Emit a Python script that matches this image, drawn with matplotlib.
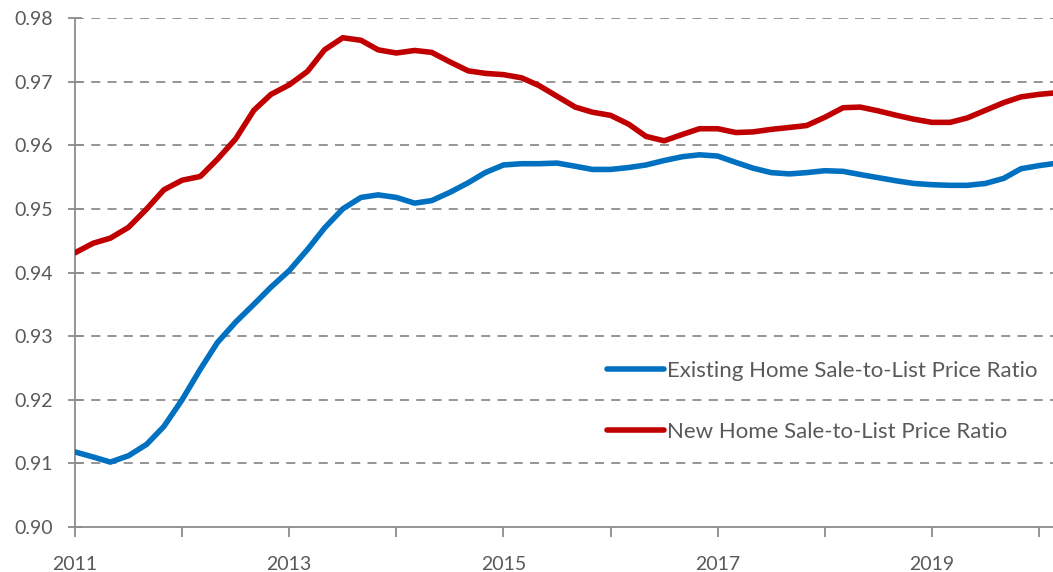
import numpy as np
import matplotlib
matplotlib.use("Agg")
import matplotlib.pyplot as plt

# bi-monthly readings, fractional years
years = [2011.00, 2011.17, 2011.33, 2011.50, 2011.67, 2011.83,
         2012.00, 2012.17, 2012.33, 2012.50, 2012.67, 2012.83,
         2013.00, 2013.17, 2013.33, 2013.50, 2013.67, 2013.83,
         2014.00, 2014.17, 2014.33, 2014.50, 2014.67, 2014.83,
         2015.00, 2015.17, 2015.33, 2015.50, 2015.67, 2015.83,
         2016.00, 2016.17, 2016.33, 2016.50, 2016.67, 2016.83,
         2017.00, 2017.17, 2017.33, 2017.50, 2017.67, 2017.83,
         2018.00, 2018.17, 2018.33, 2018.50, 2018.67, 2018.83,
         2019.00, 2019.17, 2019.33, 2019.50, 2019.67, 2019.83,
         2020.00, 2020.13]

existing_ratio = [0.9118, 0.9110, 0.9102, 0.9112, 0.9130, 0.9158,
                  0.9200, 0.9248, 0.9290, 0.9322, 0.9350, 0.9377,
                  0.9403, 0.9436, 0.9470, 0.9500, 0.9518, 0.9522,
                  0.9518, 0.9509, 0.9513, 0.9526, 0.9541, 0.9557,
                  0.9569, 0.9571, 0.9571, 0.9572, 0.9567, 0.9562,
                  0.9562, 0.9565, 0.9569, 0.9576, 0.9582, 0.9585,
                  0.9583, 0.9573, 0.9564, 0.9557, 0.9555, 0.9557,
                  0.9560, 0.9559, 0.9554, 0.9549, 0.9544, 0.9540,
                  0.9538, 0.9537, 0.9537, 0.9540, 0.9548, 0.9563,
                  0.9568, 0.9571]

new_ratio = [0.9431, 0.9446, 0.9454, 0.9471, 0.9500, 0.9530,
             0.9545, 0.9551, 0.9578, 0.9610, 0.9655, 0.9680,
             0.9695, 0.9716, 0.9750, 0.9769, 0.9765, 0.9750,
             0.9745, 0.9749, 0.9746, 0.9731, 0.9717, 0.9713,
             0.9711, 0.9706, 0.9694, 0.9677, 0.9660, 0.9652,
             0.9647, 0.9633, 0.9614, 0.9607, 0.9617, 0.9626,
             0.9626, 0.9620, 0.9621, 0.9625, 0.9628, 0.9631,
             0.9644, 0.9659, 0.9660, 0.9654, 0.9647, 0.9641,
             0.9636, 0.9636, 0.9643, 0.9655, 0.9667, 0.9676,
             0.9680, 0.9682]

labels = ["Existing Home Sale-to-List Price Ratio",
          "New Home Sale-to-List Price Ratio"]
year_ticks = list(range(2011, 2021))
y_ticks = [0.90, 0.91, 0.92, 0.93, 0.94, 0.95, 0.96, 0.97, 0.98]

plt.rcParams['font.family'] = ['Lato', 'DejaVu Sans']
text_grey = '#595959'
axis_grey = '#8c8c8c'

fig = plt.figure(figsize=(10.53, 5.72), dpi=100)
ax = fig.add_axes([0.0712, 0.0787, 0.9288, 0.8898])

ax.plot(years, existing_ratio, color='#0070C0', lw=4.0,
        solid_capstyle='round', solid_joinstyle='round',
        label=labels[0], zorder=3)
ax.plot(years, new_ratio, color='#C00000', lw=4.0,
        solid_capstyle='round', solid_joinstyle='round',
        label=labels[1], zorder=3)

ax.set_xlim(years[0], years[-1])
ax.set_ylim(0.90, 0.98)
ax.set_yticks(y_ticks)
ax.set_yticklabels(['%.2f' % v for v in y_ticks])
ax.set_xticks(year_ticks)
ax.set_xticklabels([str(y) if y % 2 == 1 else '' for y in year_ticks])

for v in y_ticks[1:]:
    ax.axhline(v, color=axis_grey, lw=1.3, ls=(0, (5, 4)), zorder=1)

for side in ['top', 'right']:
    ax.spines[side].set_visible(False)
for side in ['left', 'bottom']:
    ax.spines[side].set_color(axis_grey)
    ax.spines[side].set_linewidth(1.3)

ax.tick_params(axis='y', colors=axis_grey, labelcolor=text_grey,
               labelsize=14, direction='inout', length=10, width=1.3,
               pad=11)
ax.tick_params(axis='x', colors=axis_grey, labelcolor=text_grey,
               labelsize=14, length=7, width=1.3, pad=14)

leg = ax.legend(loc='upper left', bbox_to_anchor=(0.544, 0.326),
                frameon=False, fontsize=16, handlelength=2.55,
                handletextpad=0.15, labelspacing=1.85,
                borderaxespad=0, borderpad=0)
for t in leg.get_texts():
    t.set_color(text_grey)
for h in leg.get_lines():
    h.set_linewidth(4.0)

fig.savefig('out.png', dpi=100)
